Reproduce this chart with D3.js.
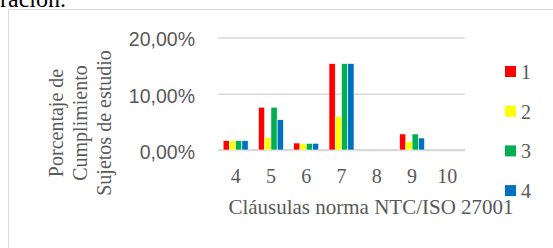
<!DOCTYPE html>
<html>
<head>
<meta charset="utf-8">
<script src="https://cdn.jsdelivr.net/npm/d3@7"></script>
<style>
  body { margin: 0; background: #fff; }
  svg { display: block; }
  .grid line { stroke: #d9d9d9; stroke-width: 1.5; }
  .grid path { display: none; }
  .serif { font-family: "Liberation Serif", "Times New Roman", serif; fill: #595959; }
  .tick-y { font-family: "Liberation Sans", Arial, sans-serif; fill: #595959; font-size: 19.5px; }
</style>
</head>
<body>
<svg width="553" height="248"></svg>
<script>
// categories = cláusulas 4..10, values in %
const categories = ["4", "5", "6", "7", "8", "9", "10"];
const seriesNames = ["1", "2", "3", "4"];
const series1 = [1.65, 7.6, 1.24, 15.35, 0, 2.85, 0];
const series2 = [1.65, 2.18, 1.12, 5.99, 0, 1.47, 0];
const series3 = [1.65, 7.6, 1.19, 15.35, 0, 2.85, 0];
const series4 = [1.65, 5.38, 1.19, 15.35, 0, 2.13, 0];
const yTicks = [0, 10, 20];
const colors = ["#ff0000", "#ffff00", "#00b050", "#0070c0"];

const allSeries = [series1, series2, series3, series4];
const rows = categories.map((c, i) => ({
  cat: c,
  values: allSeries.map((s, j) => ({ name: seriesNames[j], value: s[i] }))
}));

const svg = d3.select("svg");

// leftover text from the page above the chart
svg.append("text")
  .attr("x", 0)
  .attr("y", 7)
  .attr("font-family", "Liberation Serif, serif")
  .attr("font-size", 24)
  .attr("fill", "#000")
  .text("ración.");

// chart frame
svg.append("rect")
  .attr("x", 8.5)
  .attr("y", 9.5)
  .attr("width", 600)
  .attr("height", 300)
  .attr("fill", "#fff")
  .attr("stroke", "#d9d9d9");

const plotLeft = 218, plotRight = 465, plotTop = 37.4, plotBottom = 150;

const xScale = d3.scaleBand().domain(categories).range([plotLeft, plotRight]).padding(0);
const inner = 25;
const xSub = d3.scaleBand().domain(seriesNames).range([0, inner]).padding(0);
const yScale = d3.scaleLinear().domain([0, 20]).range([plotBottom, plotTop]);

// gridlines
svg.append("g")
  .attr("class", "grid")
  .attr("transform", `translate(${plotLeft}, 0)`)
  .call(d3.axisLeft(yScale).tickValues(yTicks).tickSize(-(plotRight - plotLeft)).tickFormat(""));

// zero line a bit heavier
svg.append("line")
  .attr("x1", plotLeft).attr("x2", plotRight)
  .attr("y1", yScale(0)).attr("y2", yScale(0))
  .attr("stroke", "#d9d9d9").attr("stroke-width", 2);

// y tick labels
svg.selectAll(".tick-y")
  .data(yTicks)
  .enter()
  .append("text")
  .attr("class", "tick-y")
  .attr("x", 195)
  .attr("y", (d) => yScale(d) + 2)
  .attr("dy", "0.35em")
  .attr("text-anchor", "end")
  .text((d) => d3.format(".2f")(d).replace(".", ",") + "%");

// bars
const groups = svg.selectAll(".grp")
  .data(rows)
  .enter()
  .append("g")
  .attr("class", "grp")
  .attr("transform", (d) => `translate(${xScale(d.cat) + (xScale.bandwidth() - inner) / 2}, 0)`);

groups.selectAll("rect")
  .data((d) => d.values)
  .enter()
  .append("rect")
  .attr("x", (d) => xSub(d.name))
  .attr("y", (d) => yScale(d.value))
  .attr("width", xSub.bandwidth())
  .attr("height", (d) => yScale(0) - yScale(d.value))
  .attr("fill", (d, i) => colors[i])
  .attr("stroke", "#fff")
  .attr("stroke-width", 0.6);

// category labels
svg.selectAll(".cat")
  .data(categories)
  .enter()
  .append("text")
  .attr("class", "serif")
  .attr("x", (d) => xScale(d) + xScale.bandwidth() / 2)
  .attr("y", 182.5)
  .attr("text-anchor", "middle")
  .attr("font-size", 20)
  .text((d) => d);

// x axis title
svg.append("text")
  .attr("class", "serif")
  .attr("x", 371)
  .attr("y", 214)
  .attr("text-anchor", "middle")
  .attr("font-size", 21)
  .text("Cláusulas norma NTC/ISO 27001");

// y axis title, three lines
const yTitle = ["Porcentaje de", "Cumplimiento", "Sujetos de estudio"];
svg.selectAll(".ytitle")
  .data(yTitle)
  .enter()
  .append("text")
  .attr("class", "serif")
  .attr("font-size", 20)
  .attr("text-anchor", "middle")
  .attr("transform", (d, i) => `translate(${63 + i * 24}, 123) rotate(-90)`)
  .text((d) => d);

// legend
const legend = svg.selectAll(".leg")
  .data(seriesNames)
  .enter()
  .append("g")
  .attr("transform", (d, i) => `translate(505, ${66 + i * 39.7})`);

legend.append("rect")
  .attr("width", 11)
  .attr("height", 11)
  .attr("fill", (d, i) => colors[i]);

legend.append("text")
  .attr("class", "serif")
  .attr("x", 16)
  .attr("y", 13)
  .attr("font-size", 20)
  .text((d) => d);
</script>
</body>
</html>
